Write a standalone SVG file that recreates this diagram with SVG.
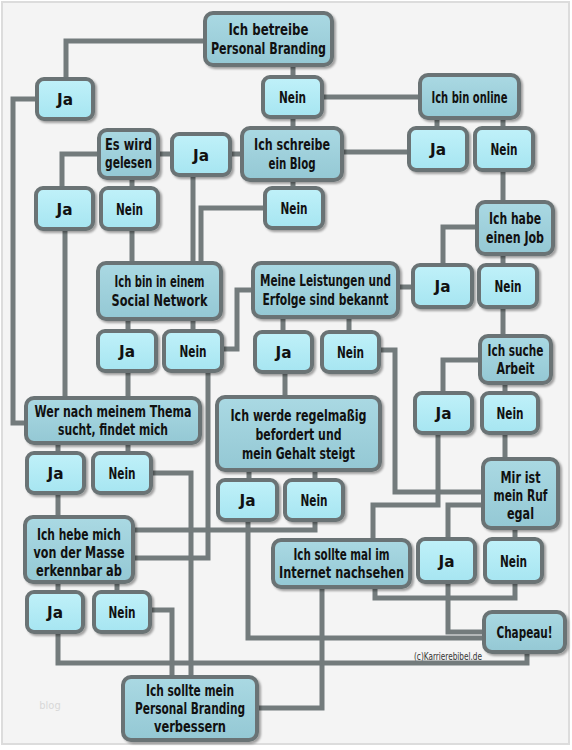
<svg xmlns="http://www.w3.org/2000/svg" width="572" height="750" viewBox="0 0 572 750">
<defs>
<filter id="sh" x="-20%" y="-20%" width="140%" height="140%">
<feDropShadow dx="2" dy="2" stdDeviation="1.2" flood-color="#000" flood-opacity="0.35"/>
</filter>
<linearGradient id="ga" x1="0" y1="0" x2="0" y2="1">
<stop offset="0" stop-color="#c0f1f9"/>
<stop offset="1" stop-color="#a6e5f1"/>
</linearGradient>
<linearGradient id="gq" x1="0" y1="0" x2="0" y2="1">
<stop offset="0" stop-color="#aad9e3"/>
<stop offset="1" stop-color="#94c8d4"/>
</linearGradient>
</defs>
<style>
.c{fill:none;stroke:#737b7c;stroke-width:5;stroke-linejoin:miter}
.q{fill:url(#gq);stroke:#6b7374;stroke-width:4;filter:url(#sh)}
.a{fill:url(#ga);stroke:#6b7374;stroke-width:4;filter:url(#sh)}
text{font-family:"DejaVu Sans Condensed","DejaVu Sans","Liberation Sans",sans-serif;font-size:16px;font-weight:bold;fill:#111;text-anchor:middle}
</style>
<rect x="0" y="0" width="572" height="750" fill="#ffffff"/>
<rect x="2" y="2" width="567" height="742" fill="#f4f4f4" stroke="#dcdcdc" stroke-width="2"/>
<text x="50" y="709" style="font-size:11px;font-weight:normal;fill:#d8d8d8">blog</text>
<text x="448" y="660" textLength="68" lengthAdjust="spacingAndGlyphs" style="font-size:10px;font-weight:normal;fill:#333">(c)Karrierebibel.de</text>
<g id="connectors">
<path class="c" d="M205,41 H66 V79"/>
<path class="c" d="M37,99 H13 V423 H26"/>
<path class="c" d="M293,65 V77"/>
<path class="c" d="M293,117 V128"/>
<path class="c" d="M322,97 H420"/>
<path class="c" d="M437,118 V128"/>
<path class="c" d="M503,118 V128"/>
<path class="c" d="M342,152 H409"/>
<path class="c" d="M242,154 H230"/>
<path class="c" d="M172,154 H158"/>
<path class="c" d="M99,154 H62 V188"/>
<path class="c" d="M132,178 V188"/>
<path class="c" d="M293,180 V188"/>
<path class="c" d="M65,229 V398"/>
<path class="c" d="M132,229 V263"/>
<path class="c" d="M193,175 V263"/>
<path class="c" d="M265,208 H201 V263"/>
<path class="c" d="M503,170 V202"/>
<path class="c" d="M477,227 H443 V265"/>
<path class="c" d="M503,254 V265"/>
<path class="c" d="M413,287 H398"/>
<path class="c" d="M503,307 V336"/>
<path class="c" d="M283,317 V332"/>
<path class="c" d="M349,317 V332"/>
<path class="c" d="M128,319 V331"/>
<path class="c" d="M193,319 V331"/>
<path class="c" d="M222,349 H237 V290 H253"/>
<path class="c" d="M128,371 V398"/>
<path class="c" d="M208,371 V558 H133"/>
<path class="c" d="M285,372 V397"/>
<path class="c" d="M379,350 H395 V492 H483"/>
<path class="c" d="M480,360 H443 V393"/>
<path class="c" d="M505,383 V393"/>
<path class="c" d="M505,433 V459"/>
<path class="c" d="M58,443 V453"/>
<path class="c" d="M128,443 V453"/>
<path class="c" d="M58,493 V517"/>
<path class="c" d="M151,473 H191 V677"/>
<path class="c" d="M249,470 V480"/>
<path class="c" d="M315,470 V480"/>
<path class="c" d="M248,520 V638 H484"/>
<path class="c" d="M315,520 V530 H133"/>
<path class="c" d="M438,433 V505 H373 V540"/>
<path class="c" d="M483,505 H448 V539"/>
<path class="c" d="M515,528 V539"/>
<path class="c" d="M515,582 V598 H375 V587"/>
<path class="c" d="M448,582 V632 H484"/>
<path class="c" d="M322,587 V708 H257"/>
<path class="c" d="M58,582 V592"/>
<path class="c" d="M117,582 V592"/>
<path class="c" d="M58,632 V663 H527 V652"/>
<path class="c" d="M150,610 H172 V677"/>
</g>
<g id="n1"><rect class="q" x="205" y="13" width="127" height="52" rx="8"/><text x="268.5" y="35" textLength="80" lengthAdjust="spacingAndGlyphs">Ich betreibe</text><text x="268.5" y="54" textLength="115" lengthAdjust="spacingAndGlyphs">Personal Branding</text></g>
<g id="n2"><rect class="a" x="37" y="79" width="56" height="40" rx="7"/><text x="65" y="105" textLength="16" lengthAdjust="spacingAndGlyphs">Ja</text></g>
<g id="n3"><rect class="a" x="263" y="77" width="59" height="40" rx="7"/><text x="292.5" y="103" textLength="27" lengthAdjust="spacingAndGlyphs">Nein</text></g>
<g id="n4"><rect class="q" x="420" y="75" width="99" height="43" rx="8"/><text x="469.5" y="102.5" textLength="76" lengthAdjust="spacingAndGlyphs">Ich bin online</text></g>
<g id="n5"><rect class="q" x="99" y="130" width="59" height="48" rx="8"/><text x="128.5" y="150" textLength="47" lengthAdjust="spacingAndGlyphs">Es wird</text><text x="128.5" y="168" textLength="47" lengthAdjust="spacingAndGlyphs">gelesen</text></g>
<g id="n6"><rect class="a" x="172" y="134" width="58" height="41" rx="7"/><text x="201" y="160.5" textLength="16" lengthAdjust="spacingAndGlyphs">Ja</text></g>
<g id="n7"><rect class="q" x="242" y="128" width="100" height="52" rx="8"/><text x="292" y="150" textLength="76" lengthAdjust="spacingAndGlyphs">Ich schreibe</text><text x="292" y="169" textLength="47" lengthAdjust="spacingAndGlyphs">ein Blog</text></g>
<g id="n8"><rect class="a" x="409" y="128" width="58" height="42" rx="7"/><text x="438" y="155" textLength="16" lengthAdjust="spacingAndGlyphs">Ja</text></g>
<g id="n9"><rect class="a" x="475" y="128" width="58" height="42" rx="7"/><text x="504" y="155" textLength="27" lengthAdjust="spacingAndGlyphs">Nein</text></g>
<g id="n10"><rect class="a" x="36" y="188" width="57" height="41" rx="7"/><text x="64.5" y="214.5" textLength="16" lengthAdjust="spacingAndGlyphs">Ja</text></g>
<g id="n11"><rect class="a" x="101" y="188" width="57" height="41" rx="7"/><text x="129.5" y="214.5" textLength="27" lengthAdjust="spacingAndGlyphs">Nein</text></g>
<g id="n12"><rect class="a" x="265" y="188" width="58" height="40" rx="7"/><text x="294" y="214" textLength="27" lengthAdjust="spacingAndGlyphs">Nein</text></g>
<g id="n13"><rect class="q" x="477" y="202" width="76" height="52" rx="8"/><text x="515" y="224" textLength="52" lengthAdjust="spacingAndGlyphs">Ich habe</text><text x="515" y="243" textLength="58" lengthAdjust="spacingAndGlyphs">einen Job</text></g>
<g id="n14"><rect class="q" x="98" y="263" width="123" height="56" rx="8"/><text x="159.5" y="287" textLength="90" lengthAdjust="spacingAndGlyphs">Ich bin in einem</text><text x="159.5" y="306" textLength="96" lengthAdjust="spacingAndGlyphs">Social Network</text></g>
<g id="n15"><rect class="q" x="253" y="263" width="145" height="54" rx="8"/><text x="325.5" y="286" textLength="131" lengthAdjust="spacingAndGlyphs">Meine Leistungen und</text><text x="325.5" y="305" textLength="126" lengthAdjust="spacingAndGlyphs">Erfolge sind bekannt</text></g>
<g id="n16"><rect class="a" x="413" y="265" width="59" height="42" rx="7"/><text x="442.5" y="292" textLength="16" lengthAdjust="spacingAndGlyphs">Ja</text></g>
<g id="n17"><rect class="a" x="479" y="265" width="58" height="42" rx="7"/><text x="508" y="292" textLength="27" lengthAdjust="spacingAndGlyphs">Nein</text></g>
<g id="n18"><rect class="a" x="98" y="331" width="58" height="40" rx="7"/><text x="127" y="357" textLength="16" lengthAdjust="spacingAndGlyphs">Ja</text></g>
<g id="n19"><rect class="a" x="164" y="331" width="58" height="40" rx="7"/><text x="193" y="357" textLength="27" lengthAdjust="spacingAndGlyphs">Nein</text></g>
<g id="n20"><rect class="a" x="255" y="332" width="57" height="40" rx="7"/><text x="283.5" y="358" textLength="16" lengthAdjust="spacingAndGlyphs">Ja</text></g>
<g id="n21"><rect class="a" x="322" y="332" width="57" height="40" rx="7"/><text x="350.5" y="358" textLength="27" lengthAdjust="spacingAndGlyphs">Nein</text></g>
<g id="n22"><rect class="q" x="480" y="336" width="71" height="47" rx="8"/><text x="515.5" y="356" textLength="56" lengthAdjust="spacingAndGlyphs">Ich suche</text><text x="515.5" y="374" textLength="38" lengthAdjust="spacingAndGlyphs">Arbeit</text></g>
<g id="n23"><rect class="q" x="26" y="398" width="174" height="45" rx="8"/><text x="113" y="417" textLength="157" lengthAdjust="spacingAndGlyphs">Wer nach meinem Thema</text><text x="113" y="435" textLength="110" lengthAdjust="spacingAndGlyphs">sucht, findet mich</text></g>
<g id="n24"><rect class="q" x="217" y="397" width="163" height="73" rx="8"/><text x="298.5" y="421" textLength="136" lengthAdjust="spacingAndGlyphs">Ich werde regelmaßig</text><text x="298.5" y="440" textLength="86" lengthAdjust="spacingAndGlyphs">befordert und</text><text x="298.5" y="459" textLength="113" lengthAdjust="spacingAndGlyphs">mein Gehalt steigt</text></g>
<g id="n25"><rect class="a" x="415" y="393" width="57" height="40" rx="7"/><text x="443.5" y="419" textLength="16" lengthAdjust="spacingAndGlyphs">Ja</text></g>
<g id="n26"><rect class="a" x="482" y="393" width="56" height="40" rx="7"/><text x="510" y="419" textLength="27" lengthAdjust="spacingAndGlyphs">Nein</text></g>
<g id="n27"><rect class="a" x="27" y="453" width="57" height="40" rx="7"/><text x="55.5" y="479" textLength="16" lengthAdjust="spacingAndGlyphs">Ja</text></g>
<g id="n28"><rect class="a" x="93" y="453" width="58" height="40" rx="7"/><text x="122" y="479" textLength="27" lengthAdjust="spacingAndGlyphs">Nein</text></g>
<g id="n29"><rect class="q" x="483" y="459" width="75" height="69" rx="8"/><text x="520.5" y="483" textLength="40" lengthAdjust="spacingAndGlyphs">Mir ist</text><text x="520.5" y="501" textLength="54" lengthAdjust="spacingAndGlyphs">mein Ruf</text><text x="520.5" y="519" textLength="27" lengthAdjust="spacingAndGlyphs">egal</text></g>
<g id="n30"><rect class="a" x="218" y="480" width="59" height="40" rx="7"/><text x="247.5" y="506" textLength="16" lengthAdjust="spacingAndGlyphs">Ja</text></g>
<g id="n31"><rect class="a" x="285" y="480" width="58" height="40" rx="7"/><text x="314" y="506" textLength="27" lengthAdjust="spacingAndGlyphs">Nein</text></g>
<g id="n32"><rect class="q" x="25" y="517" width="108" height="65" rx="8"/><text x="79" y="540" textLength="84" lengthAdjust="spacingAndGlyphs">Ich hebe mich</text><text x="79" y="558" textLength="91" lengthAdjust="spacingAndGlyphs">von der Masse</text><text x="79" y="576" textLength="86" lengthAdjust="spacingAndGlyphs">erkennbar ab</text></g>
<g id="n33"><rect class="q" x="273" y="540" width="137" height="47" rx="8"/><text x="341.5" y="560" textLength="96" lengthAdjust="spacingAndGlyphs">Ich sollte mal im</text><text x="341.5" y="578" textLength="125" lengthAdjust="spacingAndGlyphs">Internet nachsehen</text></g>
<g id="n34"><rect class="a" x="418" y="539" width="57" height="43" rx="7"/><text x="446.5" y="566.5" textLength="16" lengthAdjust="spacingAndGlyphs">Ja</text></g>
<g id="n35"><rect class="a" x="485" y="539" width="57" height="43" rx="7"/><text x="513.5" y="566.5" textLength="27" lengthAdjust="spacingAndGlyphs">Nein</text></g>
<g id="n36"><rect class="a" x="27" y="592" width="56" height="40" rx="7"/><text x="55" y="618" textLength="16" lengthAdjust="spacingAndGlyphs">Ja</text></g>
<g id="n37"><rect class="a" x="94" y="592" width="56" height="40" rx="7"/><text x="122" y="618" textLength="27" lengthAdjust="spacingAndGlyphs">Nein</text></g>
<g id="n38"><rect class="q" x="484" y="612" width="81" height="40" rx="8"/><text x="524.5" y="638" textLength="56" lengthAdjust="spacingAndGlyphs">Chapeau!</text></g>
<g id="n39"><rect class="q" x="123" y="677" width="134" height="63" rx="8"/><text x="190" y="696" textLength="88" lengthAdjust="spacingAndGlyphs">Ich sollte mein</text><text x="190" y="714" textLength="110" lengthAdjust="spacingAndGlyphs">Personal Branding</text><text x="190" y="732" textLength="72" lengthAdjust="spacingAndGlyphs">verbessern</text></g>
</svg>
